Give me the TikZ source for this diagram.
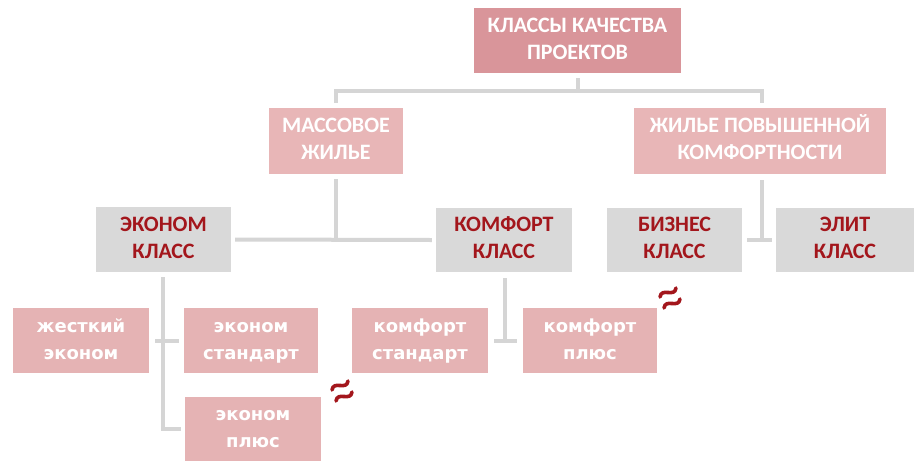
\documentclass[tikz,border=0pt]{standalone}
\usepackage{fontspec}
\setmainfont{Carlito}
\newfontfamily\leaffont{DejaVu Sans}
\usetikzlibrary{calc}
\definecolor{topfill}{HTML}{D9959A}
\definecolor{midfill}{HTML}{E8B6B7}
\definecolor{leaffill}{HTML}{E5B3B4}
\definecolor{greyfill}{HTML}{D9D9D9}
\definecolor{linegrey}{HTML}{D5D5D5}
\definecolor{darkred}{HTML}{A3161C}
\newcommand\lineA[1]{\strut #1}
\newcommand\lineB[1]{#1\strut}
\tikzset{
  box/.style={rectangle, inner sep=0pt, align=center, text=white, font=\fontsize{22}{27}\selectfont\bfseries},
  topbox/.style={box, fill=topfill},
  midbox/.style={box, fill=midfill},
  classbox/.style={box, fill=greyfill, text=darkred},
  leafbox/.style={rectangle, inner sep=0pt, align=center, fill=leaffill, text=white, minimum width=135pt, minimum height=65pt, font=\leaffont\fontsize{18}{27}\selectfont\bfseries},
  conn/.style={draw=linegrey, line width=4pt},
  squiggle/.pic={
    \draw[darkred, line width=3.6pt, line cap=round]
      (-11,-1) .. controls (-9.6,-11) and (3.6,0) .. (5,-10)
      (-7,10) .. controls (-5.6,0) and (7.6,11) .. (9,1);
  }
}
\begin{document}
\begin{tikzpicture}[x=1pt,y=-1pt]
\useasboundingbox[fill=white] (0,0) rectangle (924,472);

\node[topbox, minimum width=207pt, minimum height=65pt] (top) at (577.5,40.5) {\lineA{КЛАССЫ КАЧЕСТВА}\\\lineB{ПРОЕКТОВ}};
\node[midbox, minimum width=134pt, minimum height=66pt] (mass) at (336,141) {\lineA{МАССОВОЕ}\\\lineB{ЖИЛЬЕ}};
\node[midbox, minimum width=252pt, minimum height=66pt] (zpk) at (760,141) {\lineA{ЖИЛЬЕ ПОВЫШЕННОЙ}\\\lineB{КОМФОРТНОСТИ}};

\node[classbox, minimum width=135pt, minimum height=65pt] (econ) at (163.5,239.5) {\lineA{ЭКОНОМ}\\\lineB{КЛАСС}};
\node[classbox, minimum width=136pt, minimum height=64pt] (komf) at (504,240) {\lineA{КОМФОРТ}\\\lineB{КЛАСС}};
\node[classbox, minimum width=135pt, minimum height=64pt] (biz) at (674.5,240) {\lineA{БИЗНЕС}\\\lineB{КЛАСС}};
\node[classbox, minimum width=138pt, minimum height=64pt] (elit) at (845,240) {\lineA{ЭЛИТ}\\\lineB{КЛАСС}};

\node[leafbox, minimum width=136pt] (zhest) at (81,340.5) {\lineA{жесткий}\\\lineB{эконом}};
\node[leafbox, minimum width=134pt] (estd) at (251,340.5) {\lineA{эконом}\\\lineB{стандарт}};
\node[leafbox, minimum width=136pt, minimum height=64pt] (eplus) at (253,429) {\lineA{эконом}\\\lineB{плюс}};
\node[leafbox, minimum width=136pt] (kstd) at (420,340.5) {\lineA{комфорт}\\\lineB{стандарт}};
\node[leafbox, minimum width=134pt] (kplus) at (590,340.5) {\lineA{комфорт}\\\lineB{плюс}};

% top level
\coordinate (h1) at (336,91);
\coordinate (h2) at (762,91);
\draw[conn] ([yshift=-5pt]top.south) -- (top.south |- h1);
\draw[conn] ([yshift=5pt]mass.north -| h1) -- (h1) -- (h2) -- ([yshift=5pt]zpk.north -| h2);

% mass housing
\draw[conn] ([yshift=-5pt]mass.south) -- (mass.south |- econ.east);
\draw[conn] ([xshift=4pt]econ.east) -- ([xshift=-4pt]komf.west);

% high comfort
\coordinate (v2) at (762,240);
\draw[conn] ([yshift=-6pt]zpk.south -| v2) -- (v2);
\draw[conn] ([xshift=5pt]biz.east) -- ([xshift=-4pt]elit.west);

% econom class
\coordinate (v3) at (163,277);
\draw[conn] (v3) -- (v3 |- eplus.west) -- ([xshift=-4pt]eplus.west);
\draw[conn] ([xshift=6pt]zhest.east) -- ([xshift=-5pt]estd.west);

% comfort class
\coordinate (v4) at (505,278);
\draw[conn] (v4) -- (v4 |- kstd.east);
\draw[conn] ([xshift=6pt]kstd.east) -- ([xshift=-6pt]kplus.west);

% squiggles
\pic at (343,391) {squiggle};
\pic at (671,298) {squiggle};
\end{tikzpicture}
\end{document}
